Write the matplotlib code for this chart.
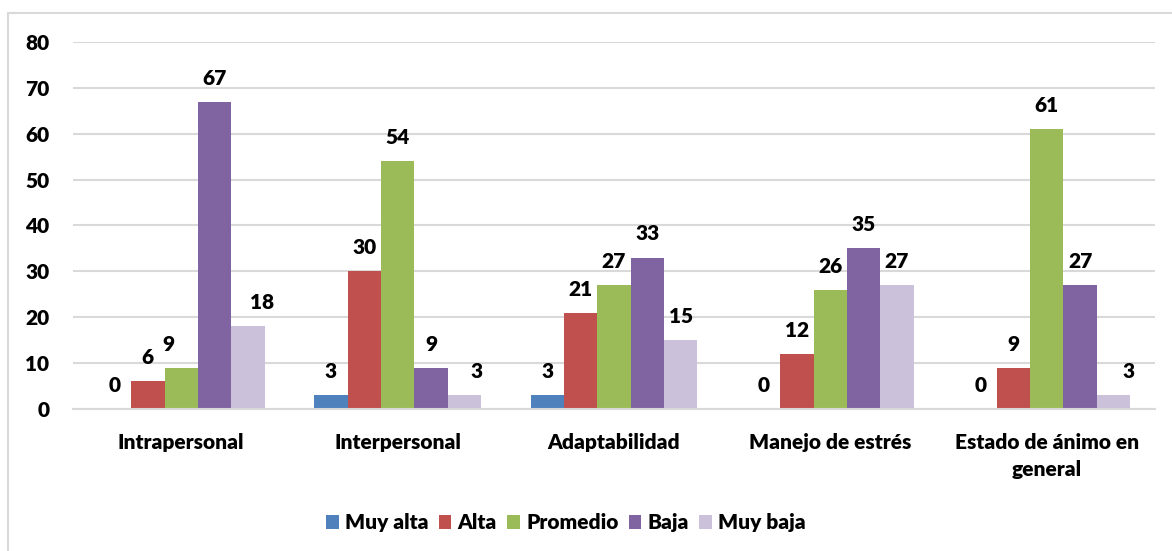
import matplotlib.pyplot as plt
import matplotlib.patches as patches
import numpy as np

# ----- Data -----
categories = ["Intrapersonal", "Interpersonal", "Adaptabilidad",
              "Manejo de estrés", "Estado de ánimo en\ngeneral"]
series_names = ["Muy alta", "Alta", "Promedio", "Baja", "Muy baja"]
muy_alta = [0, 3, 3, 0, 0]
alta = [6, 30, 21, 12, 9]
promedio = [9, 54, 27, 26, 61]
baja = [67, 9, 33, 35, 27]
muy_baja = [18, 3, 15, 27, 3]
y_ticks = [0, 10, 20, 30, 40, 50, 60, 70, 80]

series = [muy_alta, alta, promedio, baja, muy_baja]
colors = ["#4F81BD", "#C0504D", "#9BBB59", "#8064A2", "#CCC1DA"]

# a few labels were nudged sideways in the original (series, category) -> pt
label_nudge = {(2, 0): -9, (4, 0): 10, (4, 1): 9, (4, 4): 11}

plt.rcParams["font.family"] = ["Lato", "DejaVu Sans"]
plt.rcParams["font.weight"] = "heavy"
FS = 15

fig = plt.figure(figsize=(11.72, 5.51), dpi=100)
ax = fig.add_axes([0.0623, 0.2577, 0.9232, 0.6661])

x = np.arange(len(categories))
width = 0.154
for i, (name, vals, col) in enumerate(zip(series_names, series, colors)):
    pos = x + (i - 2) * width
    ax.bar(pos, vals, width, color=col, label=name, zorder=2)
    for j, (px, v) in enumerate(zip(pos, vals)):
        dx = label_nudge.get((i, j), 0)
        ax.annotate(str(v), (px, v), xytext=(dx, 17), textcoords="offset points",
                    ha="center", va="center", fontsize=FS, fontweight="heavy")

ax.set_xlim(-0.5, len(categories) - 0.5)
ax.set_ylim(0, 80)
ax.set_yticks(y_ticks)
ax.set_xticks(x)
ax.set_xticklabels(categories, fontsize=FS, fontweight="heavy", linespacing=1.5)
ax.tick_params(axis="y", length=0, pad=17, labelsize=FS)
ax.tick_params(axis="x", length=0, pad=17)
ax.grid(axis="y", color="#D9D9D9", linewidth=1.5, zorder=0)
for s in ["top", "right", "left"]:
    ax.spines[s].set_visible(False)
ax.spines["bottom"].set_color("#D9D9D9")
ax.spines["bottom"].set_linewidth(1.5)

fig.legend(loc="center", bbox_to_anchor=(0.483, 0.051), ncol=5, frameon=False,
           prop={"size": FS, "weight": "heavy"},
           handlelength=0.6, handleheight=0.6, handletextpad=0.3,
           columnspacing=0.5)

# outer chart border (left/top visible)
fig.patches.append(patches.Rectangle((8 / 1172, -0.05), 1.1, 1 - 13 / 551 + 0.05,
                                     transform=fig.transFigure, fill=False,
                                     edgecolor="#D9D9D9", linewidth=1.5))

plt.savefig("out.png", dpi=100)
